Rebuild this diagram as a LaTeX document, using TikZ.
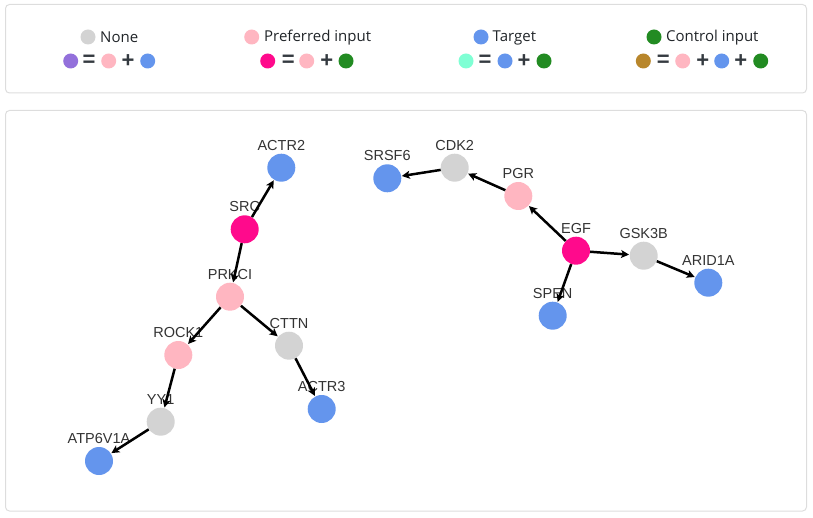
\documentclass[tikz,border=0pt]{standalone}
\usepackage{fontspec}
\setmainfont{Liberation Sans}
\newfontfamily\legfont{Open Sans}
\usetikzlibrary{arrows.meta}
\definecolor{cnone}{HTML}{D3D3D3}
\definecolor{cpref}{HTML}{FFB6C1}
\definecolor{ctarget}{HTML}{6495ED}
\definecolor{ccontrol}{HTML}{228B22}
\definecolor{cpurple}{HTML}{9370DB}
\definecolor{cmagenta}{HTML}{FF0A8C}
\definecolor{caqua}{HTML}{7FFFD4}
\definecolor{cbrown}{HTML}{B8862B}
\definecolor{boxline}{HTML}{DDDDDD}
\definecolor{labtext}{HTML}{333333}
\definecolor{legtext}{HTML}{212529}
\definecolor{optext}{HTML}{343A40}
\tikzset{
  panel/.style={draw=boxline, line width=1pt, rounded corners=4pt},
  gene/.style={circle, minimum size=28pt, inner sep=0pt, draw=none},
  lbl/.style={label distance=3pt, inner sep=0pt, text=labtext, font=\fontsize{14.5}{14.5}\selectfont},
  edge/.style={line width=2.5pt, -{Stealth[length=8pt,width=8pt,inset=2pt]}, shorten >=0.5pt},
  dot/.style={circle, minimum size=15pt, inner sep=0pt, draw=none},
  legtxt/.style={anchor=west, inner sep=0pt, text=legtext, font=\legfont\fontsize{15}{15}\selectfont},
  op/.style={inner sep=0pt, text=optext, font=\bfseries\fontsize{22}{22}\selectfont}
}
\begin{document}
\begin{tikzpicture}[x=1pt, y=-1pt]
\useasboundingbox (0,0) rectangle (813,518);
% panels
\draw[panel] (5.5,4.5) rectangle (806.5,93) coordinate (legbox);
\draw[panel] (5.5,110.5) rectangle (806.5,511) coordinate (graphbox);
% legend row 1
\node[dot, fill=cnone] (lnone) at (88,37) {};
\node[legtxt] (tnone) at (100,37.5) {None};
\node[dot, fill=cpref] (lpref) at (251.7,37) {};
\node[legtxt] (tpref) at (264,37.5) {Preferred input};
\node[dot, fill=ctarget] (ltarget) at (481,37) {};
\node[legtxt] (ttarget) at (492.5,37.5) {Target};
\node[dot, fill=ccontrol] (lcontrol) at (654,37) {};
\node[legtxt] (tcontrol) at (666,37.5) {Control input};
% legend row 2
\node[dot, fill=cpurple] (a1) at (70.7,61) {};
\node[op] (a2) at (89,61) {=};
\node[dot, fill=cpref] (a3) at (108.7,61) {};
\node[op] (a4) at (128,61) {+};
\node[dot, fill=ctarget] (a5) at (147.7,61) {};
\node[dot, fill=cmagenta] (b1) at (267.7,61) {};
\node[op] (b2) at (288.3,61) {=};
\node[dot, fill=cpref] (b3) at (306.7,61) {};
\node[op] (b4) at (326.7,61) {+};
\node[dot, fill=ccontrol] (b5) at (346,61) {};
\node[dot, fill=caqua] (c1) at (466,61) {};
\node[op] (c2) at (485,61) {=};
\node[dot, fill=ctarget] (c3) at (505,61) {};
\node[op] (c4) at (524,61) {+};
\node[dot, fill=ccontrol] (c5) at (544,61) {};
\node[dot, fill=cbrown] (d1) at (643.3,61) {};
\node[op] (d2) at (663.3,61) {=};
\node[dot, fill=cpref] (d3) at (682.7,61) {};
\node[op] (d4) at (702.7,61) {+};
\node[dot, fill=ctarget] (d5) at (721.7,61) {};
\node[op] (d6) at (740.7,61) {+};
\node[dot, fill=ccontrol] (d7) at (760.7,61) {};
% graph nodes
\node[gene, fill=ctarget, label={[lbl]90:ACTR2}] (ACTR2) at (281.3,167.7) {};
\node[gene, fill=cmagenta, label={[lbl]90:SRC}] (SRC) at (244.7,229.3) {};
\node[gene, fill=cpref, label={[lbl]90:PRKCI}] (PRKCI) at (230,296.7) {};
\node[gene, fill=cpref, label={[lbl]90:ROCK1}] (ROCK1) at (178.3,355) {};
\node[gene, fill=cnone, label={[lbl]90:CTTN}] (CTTN) at (289,345.7) {};
\node[gene, fill=cnone, label={[lbl]90:YY1}] (YY1) at (160.7,421.7) {};
\node[gene, fill=ctarget, label={[lbl]90:ACTR3}] (ACTR3) at (321.7,409) {};
\node[gene, fill=ctarget, label={[lbl]90:ATP6V1A}] (ATP6V1A) at (99,461) {};
\node[gene, fill=ctarget, label={[lbl]90:SRSF6}] (SRSF6) at (387.3,178.3) {};
\node[gene, fill=cnone, label={[lbl]90:CDK2}] (CDK2) at (454.7,167.7) {};
\node[gene, fill=cpref, label={[lbl]90:PGR}] (PGR) at (518.3,196) {};
\node[gene, fill=cmagenta, label={[lbl]90:EGF}] (EGF) at (576,250.7) {};
\node[gene, fill=cnone, label={[lbl]90:GSK3B}] (GSK3B) at (643.7,255.7) {};
\node[gene, fill=ctarget, label={[lbl]90:ARID1A}] (ARID1A) at (708.3,282.7) {};
\node[gene, fill=ctarget, label={[lbl]90:SPEN}] (SPEN) at (552.7,315.7) {};
% edges
\draw[edge] (SRC) -- (ACTR2);
\draw[edge] (SRC) -- (PRKCI);
\draw[edge] (PRKCI) -- (ROCK1);
\draw[edge] (PRKCI) -- (CTTN);
\draw[edge] (ROCK1) -- (YY1);
\draw[edge] (YY1) -- (ATP6V1A);
\draw[edge] (CTTN) -- (ACTR3);
\draw[edge] (EGF) -- (PGR);
\draw[edge] (PGR) -- (CDK2);
\draw[edge] (CDK2) -- (SRSF6);
\draw[edge] (EGF) -- (GSK3B);
\draw[edge] (GSK3B) -- (ARID1A);
\draw[edge] (EGF) -- (SPEN);
\end{tikzpicture}
\end{document}
